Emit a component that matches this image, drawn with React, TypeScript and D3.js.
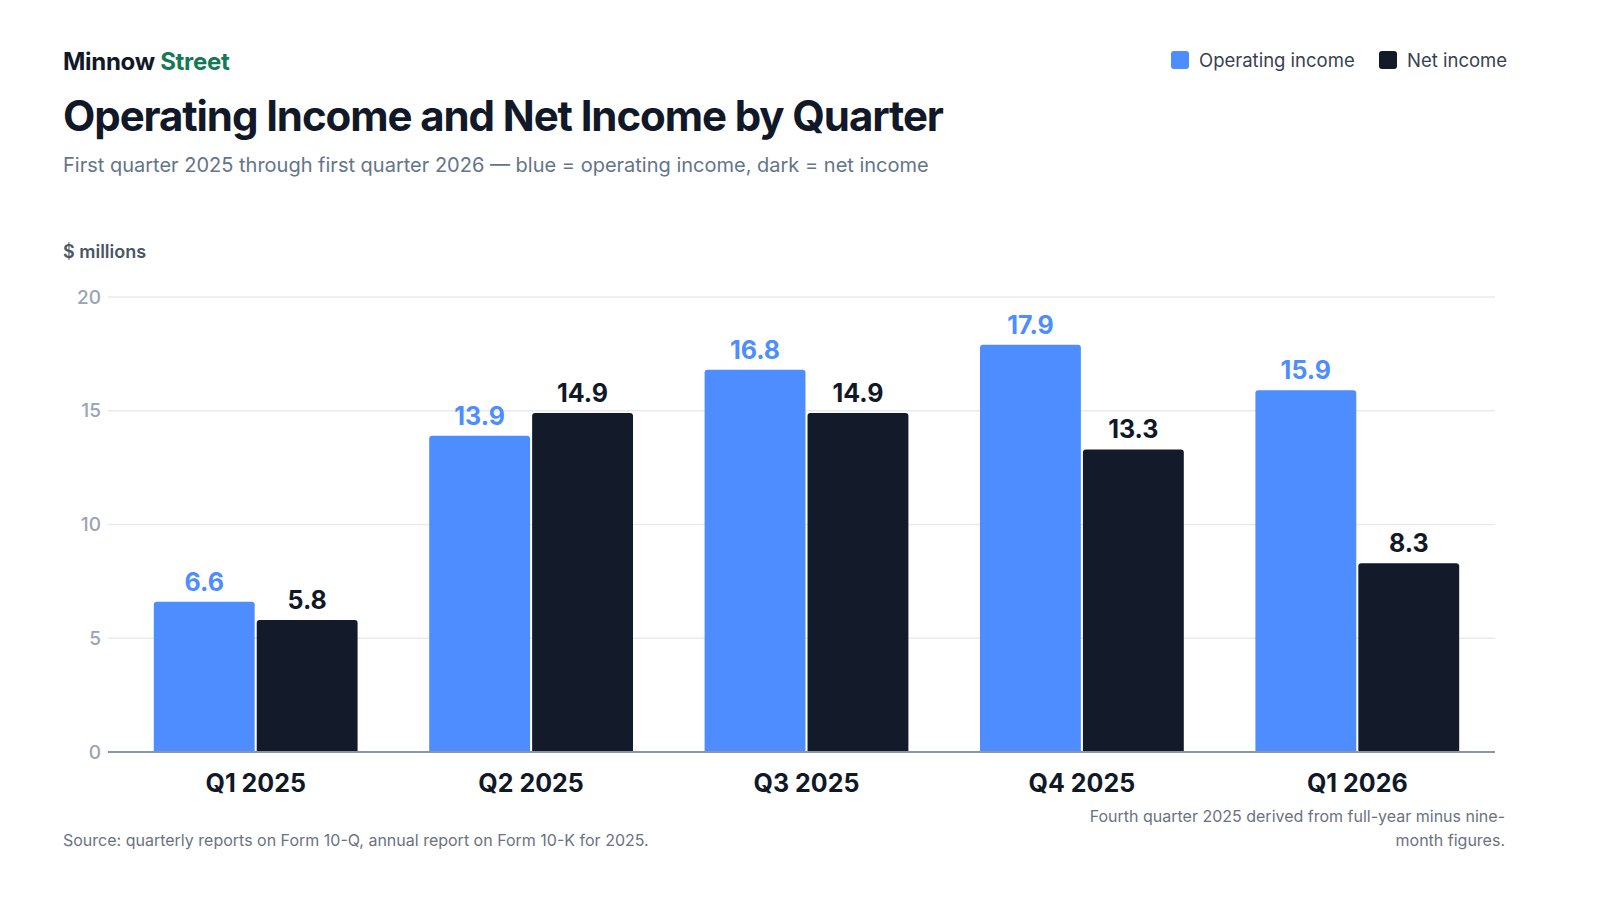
import React, { useEffect } from 'react';
import * as d3 from 'd3';

const quarters = ['Q1 2025', 'Q2 2025', 'Q3 2025', 'Q4 2025', 'Q1 2026'];
const operatingIncome = [6.6, 13.9, 16.8, 17.9, 15.9];
const netIncome = [5.8, 14.9, 14.9, 13.3, 8.3];
const seriesKeys = ['operating', 'net'];
const seriesLabels = ['Operating income', 'Net income'];
const yTicks = [0, 5, 10, 15, 20];

const BLUE = '#4d8dff';
const DARK = '#131a2a';
const INK = '#111827';
const FONT = 'Inter, "Noto Sans", sans-serif';

const W = 1600;
const H = 900;

// rounded-top bar path
function topRoundedRect(x: number, y: number, w: number, h: number, r: number) {
  const rr = Math.min(r, h / 2, w / 2);
  return `M${x},${y + h}V${y + rr}Q${x},${y} ${x + rr},${y}H${x + w - rr}Q${x + w},${y} ${x + w},${y + rr}V${y + h}Z`;
}

export default function App() {
  useEffect(() => {
    document.body.style.margin = '0';
    document.body.style.overflow = 'hidden';
  }, []);

  const left = 108;
  const right = 1495;
  const top = 297;
  const bottom = 752;

  const x0 = d3.scaleBand<string>()
    .domain(quarters)
    .range([118, right])
    .paddingInner(0.26)
    .paddingOuter(0.13);

  const x1 = d3.scaleBand<string>()
    .domain(seriesKeys)
    .range([0, x0.bandwidth()])
    .paddingInner(0.02);

  const y = d3.scaleLinear().domain([0, 20]).range([bottom, top]);

  const rows = quarters.map((q, i) => ({
    q,
    values: [
      { key: 'operating', v: operatingIncome[i], color: BLUE, label: BLUE },
      { key: 'net', v: netIncome[i], color: DARK, label: INK },
    ],
  }));

  return (
    <svg width={W} height={H} viewBox={`0 0 ${W} ${H}`}
      style={{ position: 'absolute', left: 0, top: 0, display: 'block', fontFamily: FONT, background: '#fff' }}>
      <rect width={W} height={H} fill="#fff" />

      {/* Header */}
      <text x={63} y={70} fontSize={24} fontWeight={700} fill={INK} letterSpacing={-0.3}>
        Minnow <tspan fill="#137a55">Street</tspan>
      </text>
      <text x={63} y={131} fontSize={42} fontWeight={700} fill={INK} letterSpacing={-1.1}>
        Operating Income and Net Income by Quarter
      </text>
      <text x={63} y={172} fontSize={20} fill="#64748b">
        First quarter 2025 through first quarter 2026 — blue = operating income, dark = net income
      </text>

      {/* Legend */}
      <g fontSize={18.5} fill="#374151">
        <rect x={1171} y={51} width={18} height={18} rx={3} fill={BLUE} />
        <text x={1199} y={67}>{seriesLabels[0]}</text>
        <rect x={1379} y={51} width={18} height={18} rx={3} fill={DARK} />
        <text x={1407} y={67}>{seriesLabels[1]}</text>
      </g>

      {/* Unit label */}
      <text x={63} y={258} fontSize={18} fontWeight={600} fill="#4b5563">$ millions</text>

      {/* Gridlines + y ticks */}
      {yTicks.map(t => (
        <g key={t}>
          {t !== 0 && (
            <line x1={left} x2={right} y1={y(t)} y2={y(t)} stroke="#e8eaee" strokeWidth={1.5} />
          )}
          <text x={101} y={y(t)} dy="0.35em" textAnchor="end" fontSize={19} fontWeight={500} fill="#9aa3b5">{t}</text>
        </g>
      ))}

      {/* Bars */}
      {rows.map(r => (
        <g key={r.q} transform={`translate(${x0(r.q)},0)`}>
          {r.values.map(d => {
            const bx = x1(d.key) as number;
            const bw = x1.bandwidth();
            return (
              <g key={d.key}>
                <path d={topRoundedRect(bx, y(d.v), bw, bottom - y(d.v), 3)} fill={d.color} />
                <text x={bx + bw / 2} y={y(d.v) - 11} textAnchor="middle"
                  fontSize={25} fontWeight={700} fill={d.label}>
                  {d.v.toFixed(1)}
                </text>
              </g>
            );
          })}
          <text x={x0.bandwidth() / 2} y={792} textAnchor="middle"
            fontSize={25} fontWeight={700} fill={INK}>{r.q}</text>
        </g>
      ))}

      {/* Baseline */}
      <line x1={left} x2={right} y1={bottom} y2={bottom} stroke="#8c95a8" strokeWidth={2} />

      {/* Footer */}
      <text x={63} y={846} fontSize={16} fill="#6b7280">
        Source: quarterly reports on Form 10-Q, annual report on Form 10-K for 2025.
      </text>
      <text x={1505} y={822} fontSize={16} fill="#6b7280" textAnchor="end">
        Fourth quarter 2025 derived from full-year minus nine-
      </text>
      <text x={1505} y={846} fontSize={16} fill="#6b7280" textAnchor="end">
        month figures.
      </text>
    </svg>
  );
}
